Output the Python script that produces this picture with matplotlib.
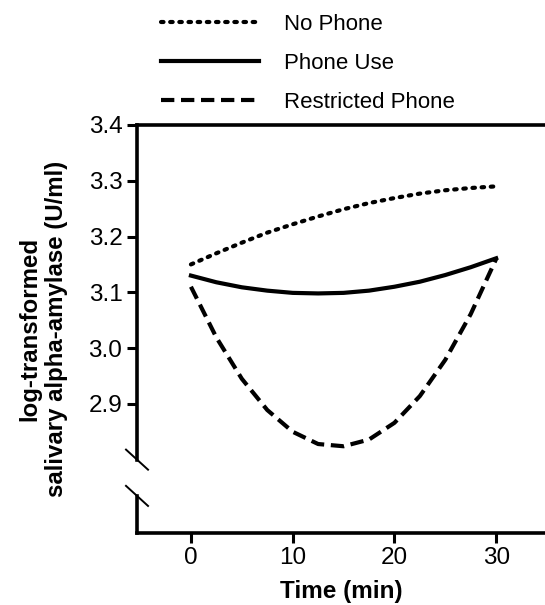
import matplotlib
matplotlib.use('Agg')
import matplotlib.pyplot as plt
import matplotlib.transforms as mtransforms

plt.rcParams['font.family'] = ['Liberation Sans', 'DejaVu Sans']

# values (every 2.5 min)
time = [0, 2.5, 5, 7.5, 10, 12.5, 15, 17.5, 20, 22.5, 25, 27.5, 30]
no_phone = [3.150, 3.170, 3.189, 3.207, 3.222, 3.236, 3.249, 3.260, 3.269, 3.277, 3.283, 3.287, 3.290]
phone_use = [3.130, 3.118, 3.109, 3.103, 3.099, 3.098, 3.099, 3.103, 3.110, 3.119, 3.131, 3.145, 3.161]
restricted = [3.110, 3.019, 2.945, 2.889, 2.850, 2.828, 2.824, 2.836, 2.866, 2.914, 2.979, 3.061, 3.160]

yticks = [2.9, 3.0, 3.1, 3.2, 3.3, 3.4]
xticks = [0, 10, 20, 30]

fig = plt.figure(figsize=(5.45, 6.05), dpi=100)
ax = fig.add_axes([0.2514, 0.1195, 0.7486, 0.6739])

ax.plot(time, no_phone, color='black', linestyle=(0, (0.6, 1.6)), linewidth=3.0,
        dash_capstyle='round', label='No Phone')
ax.plot(time, phone_use, color='black', linestyle='-', linewidth=3.0, label='Phone Use')
ax.plot(time, restricted, color='black', linestyle=(0, (3.2, 1.6)), linewidth=3.0,
        label='Restricted Phone')

ax.set_xlim(-5.3, 34.8)
ax.set_ylim(2.669, 3.4)
ax.set_xticks(xticks)
ax.set_yticks(yticks)
ax.set_yticklabels([f'{v:.1f}' for v in yticks])
ax.tick_params(axis='both', labelsize=17.5, width=2.2, length=7, direction='out')

# spines: top + bottom, left drawn by hand with a break
ax.spines['right'].set_visible(False)
ax.spines['left'].set_visible(False)
for s in ['top', 'bottom']:
    ax.spines[s].set_linewidth(2.6)

trans = mtransforms.blended_transform_factory(ax.transAxes, ax.transData)
ax.plot([0, 0], [2.800, 3.4], transform=trans, color='black', linewidth=2.6,
        clip_on=False, solid_capstyle='projecting')
ax.plot([0, 0], [2.669, 2.735], transform=trans, color='black', linewidth=2.6,
        clip_on=False, solid_capstyle='projecting')
for yb in [2.800, 2.735]:
    ax.plot([-0.027, 0.027], [yb + 0.018, yb - 0.018], transform=trans,
            color='black', linewidth=1.4, clip_on=False)

ax.set_xlabel('Time (min)', fontsize=17.5, fontweight='bold', labelpad=8)
ax.set_ylabel('log-transformed\nsalivary alpha-amylase (U/ml)', fontsize=17.3,
              fontweight='bold', labelpad=15, linespacing=1.2)

ax.legend(loc='lower left', bbox_to_anchor=(0.03, 1.0), frameon=False, fontsize=16,
          handlelength=4.4, handletextpad=1.1, labelspacing=0.8, borderaxespad=0.15)

fig.savefig('out.png', dpi=100)
